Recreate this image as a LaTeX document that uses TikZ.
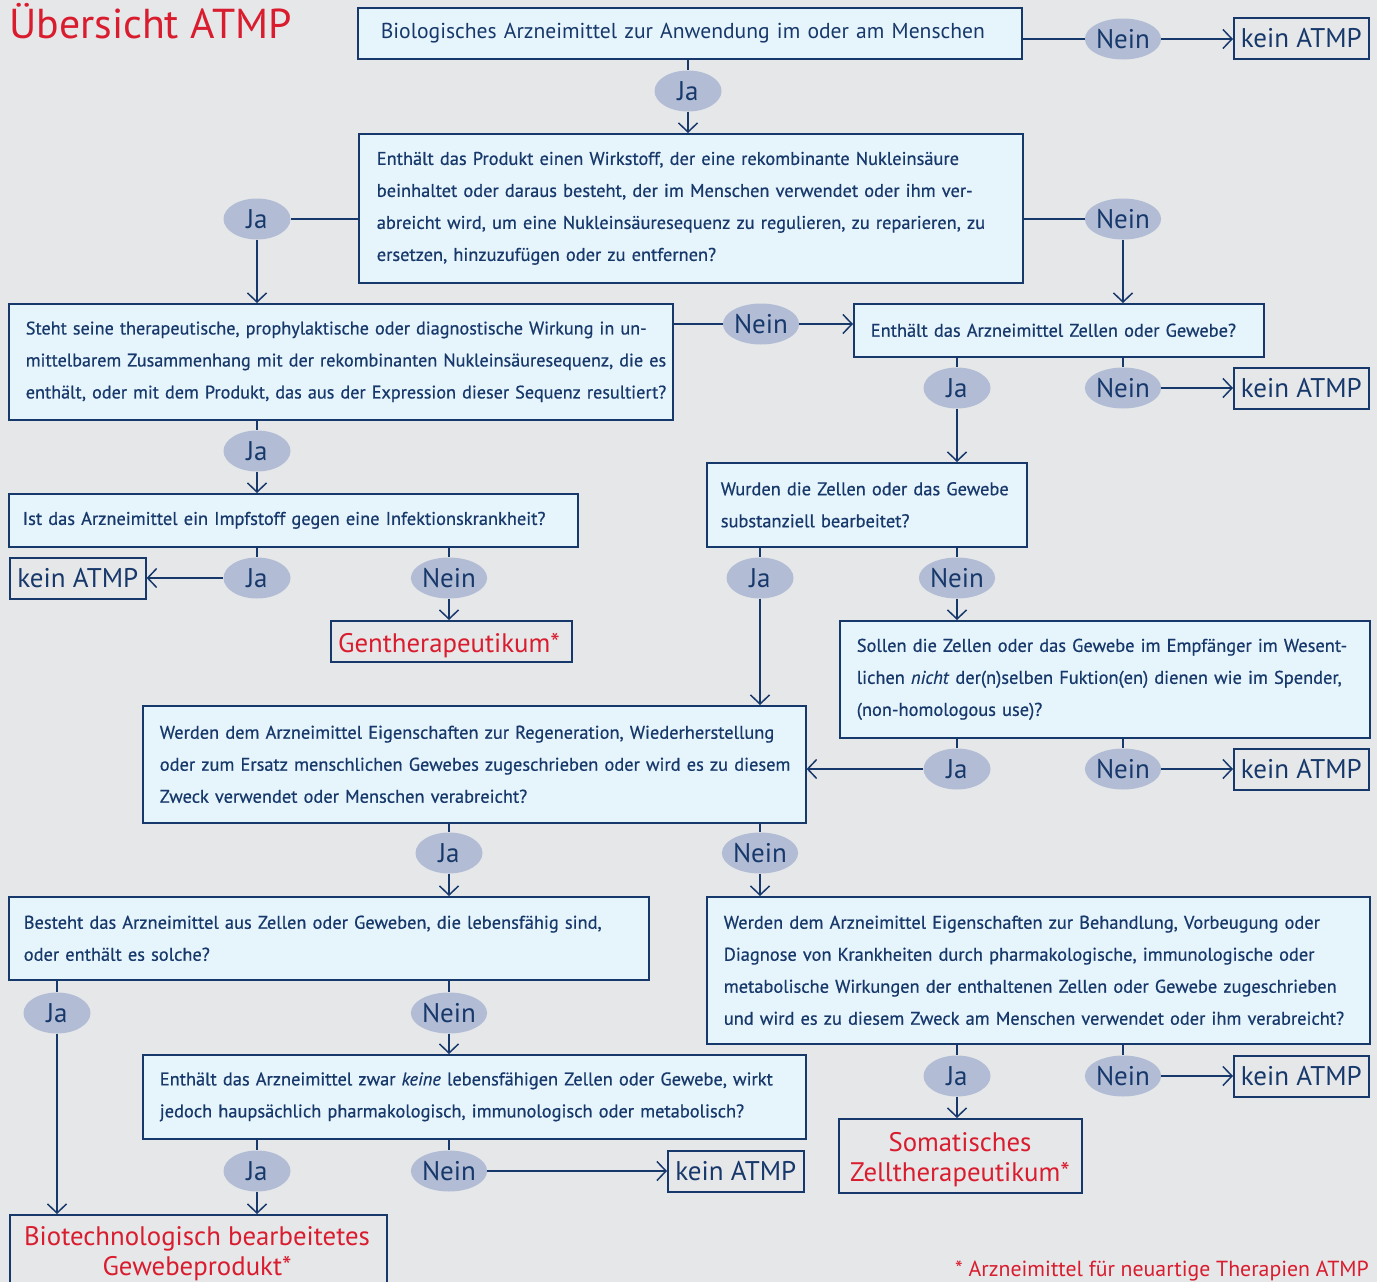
\documentclass[tikz,border=0pt]{standalone}
\usepackage{fontspec}
\setmainfont{PT Sans}
\newfontfamily\qfont{PT Sans}[FakeBold=0.6]
\usetikzlibrary{shapes.geometric,arrows.meta}
\definecolor{bg}{HTML}{E6E7E9}
\definecolor{boxfill}{HTML}{E6F4FC}
\definecolor{ellfill}{HTML}{B2BDD5}
\definecolor{navy}{HTML}{17386A}
\definecolor{atmpred}{HTML}{D91C2E}
\newcommand\Lx[1]{\mbox{#1}}
\begin{document}
\begin{tikzpicture}[x=1pt,y=-1pt,
  qbox/.style={draw=navy, line width=1.6pt, fill=boxfill, text=navy, align=left,
    inner xsep=17pt, inner ysep=0pt, anchor=north west,
    font=\qfont\fontsize{18.4}{32}\selectfont},
  kbox/.style={draw=navy, line width=1.6pt, text=navy, inner sep=0pt, anchor=north west,
    minimum width=135pt, minimum height=41pt, font=\fontsize{27}{27}\selectfont},
  rbox/.style={draw=navy, line width=1.6pt, text=atmpred, inner sep=0pt, anchor=north west,
    align=center, font=\fontsize{27}{31}\selectfont},
  rtext/.style={text=atmpred, inner sep=0pt, align=center, font=\fontsize{26.8}{31}\selectfont},
  ell/.style={ellipse, fill=ellfill, minimum width=67pt, minimum height=41pt, inner sep=0pt,
    text=navy, font=\fontsize{27}{27}\selectfont},
  con/.style={draw=navy, line width=1.5pt},
  arr/.style={con, -{Straight Barb[length=9pt,width=19pt]}}
]
\useasboundingbox (0,0) rectangle (1377,1282);
\fill[bg] (0,0) rectangle (1377,1282);
\begin{scope}
\clip (0,0) rectangle (1377,1282);

\node[anchor=base west, text=atmpred, inner sep=0pt, font=\fontsize{41.8}{42}\selectfont] (title) at (9,38) {Übersicht ATMP};

% boxes
\node[qbox, inner xsep=23pt, text width=618pt, minimum height=51pt, font=\fontsize{21.6}{24}\selectfont] (b1) at (357,7)
  {\Lx{Biologisches Arzneimittel zur Anwendung im oder am Menschen}};
\node[qbox, inner xsep=18pt, text width=628pt, minimum height=149pt] (b2) at (358,133)
  {\Lx{Enthält das Produkt einen Wirkstoff, der eine rekombinante Nukleinsäure}\\
   \Lx{beinhaltet oder daraus besteht, der im Menschen verwendet oder ihm ver-}\\
   \Lx{abreicht wird, um eine Nukleinsäuresequenz zu regulieren, zu reparieren, zu}\\
   \Lx{ersetzen, hinzuzufügen oder zu entfernen?}};
\node[qbox, inner xsep=17pt, text width=630pt, minimum height=116pt, font=\qfont\fontsize{18.2}{32}\selectfont] (b3) at (8,303)
  {\Lx{Steht seine therapeutische, prophylaktische oder diagnostische Wirkung in un-}\\
   \Lx{mittelbarem Zusammenhang mit der rekombinanten Nukleinsäuresequenz, die es}\\
   \Lx{enthält, oder mit dem Produkt, das aus der Expression dieser Sequenz resultiert?}};
\node[qbox, inner xsep=17pt, text width=376pt, minimum height=53pt] (b4) at (853,303)
  {\Lx{Enthält das Arzneimittel Zellen oder Gewebe?}};
\node[qbox, inner xsep=14pt, text width=541pt, minimum height=53pt] (b5) at (8,493)
  {\Lx{Ist das Arzneimittel ein Impfstoff gegen eine Infektionskrankheit?}};
\node[qbox, inner xsep=14pt, text width=292pt, minimum height=84pt] (b6) at (706,462)
  {\Lx{Wurden die Zellen oder das Gewebe}\\ \Lx{substanziell bearbeitet?}};
\node[qbox, inner xsep=17pt, text width=496pt, minimum height=117pt] (b7) at (839,620)
  {\Lx{Sollen die Zellen oder das Gewebe im Empfänger im Wesent-}\\
   \Lx{lichen \textit{nicht} der(n)selben Fuktion(en) dienen wie im Spender,}\\
   \Lx{(non-homologous use)?}};
\node[qbox, inner xsep=17pt, text width=629pt, minimum height=117pt] (b8) at (142,705)
  {\Lx{Werden dem Arzneimittel Eigenschaften zur Regeneration, Wiederherstellung}\\
   \Lx{oder zum Ersatz menschlichen Gewebes zugeschrieben oder wird es zu diesem}\\
   \Lx{Zweck verwendet oder Menschen verabreicht?}};
\node[qbox, inner xsep=15pt, text width=610pt, minimum height=83pt] (b9) at (8,896)
  {\Lx{Besteht das Arzneimittel aus Zellen oder Geweben, die lebensfähig sind,}\\
   \Lx{oder enthält es solche?}};
\node[qbox, inner xsep=17pt, text width=629pt, minimum height=147pt] (b10) at (706,896)
  {\Lx{Werden dem Arzneimittel Eigenschaften zur Behandlung, Vorbeugung oder}\\
   \Lx{Diagnose von Krankheiten durch pharmakologische, immunologische oder}\\
   \Lx{metabolische Wirkungen der enthaltenen Zellen oder Gewebe zugeschrieben}\\
   \Lx{und wird es zu diesem Zweck am Menschen verwendet oder ihm verabreicht?}};
\node[qbox, inner xsep=17pt, text width=629pt, minimum height=84pt] (b11) at (142,1054)
  {\Lx{Enthält das Arzneimittel zwar \textit{keine} lebensfähigen Zellen oder Gewebe, wirkt}\\
   \Lx{jedoch haupsächlich pharmakologisch, immunologisch oder metabolisch?}};

% end boxes
\node[kbox] (k1) at (1233,17) {kein ATMP};
\node[kbox] (k2) at (1233,367) {kein ATMP};
\node[kbox, minimum width=136pt] (k3) at (9,557) {kein ATMP};
\node[kbox] (k4) at (1233,748) {kein ATMP};
\node[kbox, minimum width=136pt] (k5) at (667,1150) {kein ATMP};
\node[kbox] (k6) at (1233,1055) {kein ATMP};
\node[rbox, minimum width=241pt, minimum height=41pt] (g1) at (330,620) {};
\node[rtext, anchor=base] (g1t) at (449,652) {Gentherapeutikum*};
\node[rbox, minimum width=243pt, minimum height=74pt] (s1) at (838,1118) {};
\node[rtext, anchor=base] (s1a) at (960,1151) {Somatisches};
\node[rtext, anchor=base] (s1b) at (960,1181) {Zelltherapeutikum*};
\node[rbox, minimum width=377pt, minimum height=95pt] (p1) at (9,1214) {};
\node[rtext, anchor=base] (p1a) at (197,1245) {Biotechnologisch bearbeitetes};
\node[rtext, anchor=base] (p1b) at (197,1275) {Gewebeprodukt*};

\node[anchor=base east, text=atmpred, inner sep=0pt, font=\fontsize{21.8}{22}\selectfont] (fn) at (1369,1276)
  {* Arzneimittel für neuartige Therapien ATMP};

% ellipses
\node[ell] (n1) at (1123,39) {Nein};
\node[ell] (j1) at (688,91) {Ja};
\node[ell] (j2) at (257,219) {Ja};
\node[ell] (n2) at (1123,219) {Nein};
\node[ell] (n3) at (761,324) {Nein};
\node[ell] (j4) at (957,388) {Ja};
\node[ell] (n4) at (1123,388) {Nein};
\node[ell] (j3) at (257,451) {Ja};
\node[ell] (j5) at (257,578) {Ja};
\node[ell] (n5) at (449,578) {Nein};
\node[ell] (j6) at (760,578) {Ja};
\node[ell] (n6) at (957,578) {Nein};
\node[ell] (j7) at (957,769) {Ja};
\node[ell] (n7) at (1123,769) {Nein};
\node[ell] (j8) at (449,853) {Ja};
\node[ell] (n8) at (760,853) {Nein};
\node[ell] (j9) at (57,1013) {Ja};
\node[ell] (n9) at (449,1013) {Nein};
\node[ell] (j11) at (257,1171) {Ja};
\node[ell] (n11) at (449,1171) {Nein};
\node[ell] (j10) at (957,1076) {Ja};
\node[ell] (n10) at (1123,1076) {Nein};

% connectors
\draw[con] (n1 -| b1.east) -- (n1);
\draw[arr] (n1) -- (n1 -| k1.west);
\draw[con] (b1.south -| j1) -- (j1);
\draw[arr] (j1) -- (j1 |- b2.north);
\draw[con] (j2 -| b2.west) -- (j2);
\draw[arr] (j2) -- (j2 |- b3.north);
\draw[con] (n2 -| b2.east) -- (n2);
\draw[arr] (n2) -- (n2 |- b4.north);
\draw[con] (n3 -| b3.east) -- (n3);
\draw[arr] (n3) -- (n3 -| b4.west);
\draw[con] (b4.south -| j4) -- (j4);
\draw[arr] (j4) -- (j4 |- b6.north);
\draw[con] (b4.south -| n4) -- (n4);
\draw[arr] (n4) -- (n4 -| k2.west);
\draw[con] (b3.south -| j3) -- (j3);
\draw[arr] (j3) -- (j3 |- b5.north);
\draw[con] (b5.south -| j5) -- (j5);
\draw[arr] (j5) -- (j5 -| k3.east);
\draw[con] (b5.south -| n5) -- (n5);
\draw[arr] (n5) -- (n5 |- g1.north);
\draw[con] (b6.south -| j6) -- (j6);
\draw[arr] (j6) -- (j6 |- b8.north);
\draw[con] (b6.south -| n6) -- (n6);
\draw[arr] (n6) -- (n6 |- b7.north);
\draw[con] (b7.south -| j7) -- (j7);
\draw[arr] (j7) -- (j7 -| b8.east);
\draw[con] (b7.south -| n7) -- (n7);
\draw[arr] (n7) -- (n7 -| k4.west);
\draw[con] (b8.south -| j8) -- (j8);
\draw[arr] (j8) -- (j8 |- b9.north);
\draw[con] (b8.south -| n8) -- (n8);
\draw[arr] (n8) -- (n8 |- b10.north);
\draw[con] (b9.south -| j9) -- (j9);
\draw[arr] (j9) -- (j9 |- p1.north);
\draw[con] (b9.south -| n9) -- (n9);
\draw[arr] (n9) -- (n9 |- b11.north);
\draw[con] (b11.south -| j11) -- (j11);
\draw[arr] (j11) -- (j11 |- p1.north);
\draw[con] (b11.south -| n11) -- (n11);
\draw[arr] (n11) -- (n11 -| k5.west);
\draw[con] (b10.south -| j10) -- (j10);
\draw[arr] (j10) -- (j10 |- s1.north);
\draw[con] (b10.south -| n10) -- (n10);
\draw[arr] (n10) -- (n10 -| k6.west);
\end{scope}
\end{tikzpicture}
\end{document}
